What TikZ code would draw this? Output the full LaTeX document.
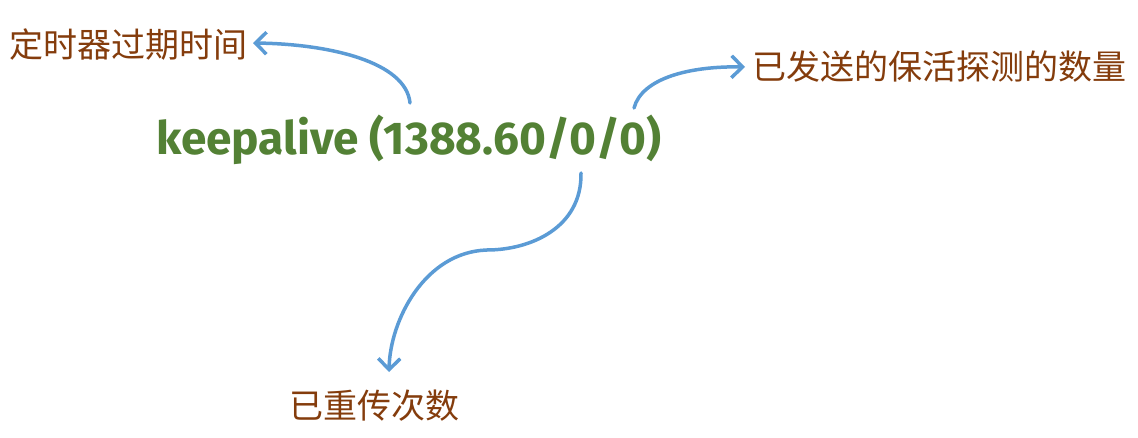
\documentclass[tikz,border=0pt]{standalone}
\usepackage{fontspec}
\setmainfont{Fira Sans}
\newfontfamily\cjk{Noto Sans CJK SC}
\newfontfamily\keyfont{Fira Sans}
\usetikzlibrary{arrows.meta}
\definecolor{lblbrown}{HTML}{843C0C}
\definecolor{keygreen}{HTML}{538135}
\definecolor{arrblue}{HTML}{5B9BD5}
\tikzset{
  lbl/.style={font=\cjk\fontsize{34}{36}\selectfont, text=lblbrown, inner sep=0pt},
  keytext/.style={font=\keyfont\bfseries\fontsize{46}{50}\selectfont, text=keygreen, inner sep=0pt},
  conn/.style={draw=arrblue, line width=3.5pt, line cap=round,
    -{Straight Barb[length=11pt,width=22pt,line width=3.5pt]}}
}
\begin{document}
\begin{tikzpicture}[x=1pt,y=-1pt]
\useasboundingbox (0,0) rectangle (1138,438);
\node[lbl, anchor=west] (timer) at (9,45) {定时器过期时间};
\node[lbl, anchor=west] (probes) at (752,67) {已发送的保活探测的数量};
\node[lbl, anchor=west] (retrans) at (289,406) {已重传次数};
\node[keytext] (ka) at (409,140) {keepalive (1388.60/0/0)};
\coordinate (s1) at (410,103);
\coordinate (s2) at (634,108);
\coordinate (s3) at (581,173);
\coordinate (mid) at (487,250);
\coordinate (t1) at (253,43);
\coordinate (t2) at (745,67);
\coordinate (t3) at (389,372);
\draw[conn] (s1) .. controls (406,62) and (330,44) .. (t1);
\draw[conn] (s2) .. controls (642,78) and (690,66) .. (t2);
\draw[conn] (s3) .. controls (582,228) and (530,250) .. (mid) .. controls (425,252) and (390,320) .. (t3);
\end{tikzpicture}
\end{document}
